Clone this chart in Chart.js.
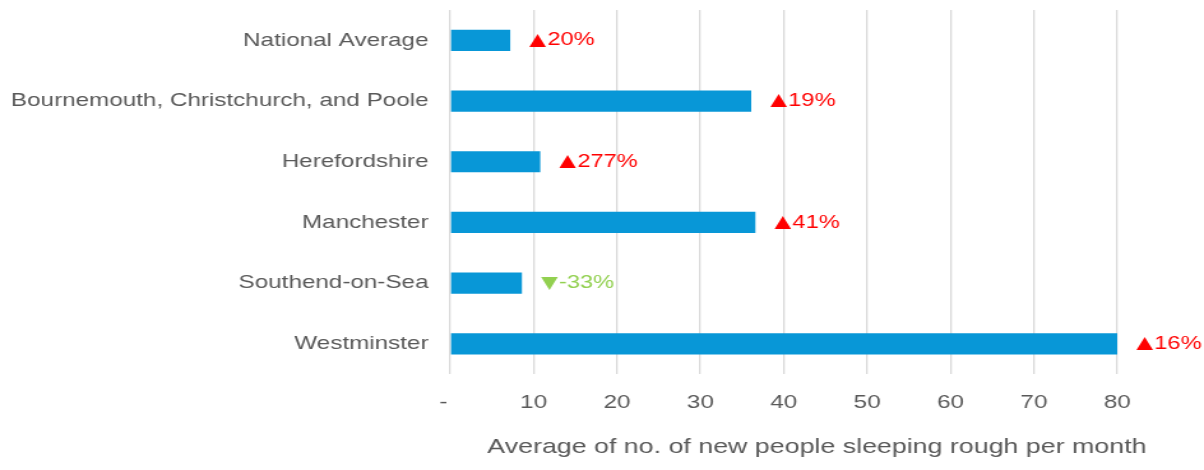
<!DOCTYPE html>
<html>
<head>
<meta charset="utf-8">
<title>New people sleeping rough</title>
<script src="https://cdn.jsdelivr.net/npm/chart.js@4/dist/chart.umd.min.js"></script>
<style>
    html, body { margin: 0; padding: 0; background: #fff; overflow: hidden; }
    /* the chart is laid out narrow and stretched sideways */
    #wrap { width: 944px; height: 470px; transform: scaleX(1.2754); transform-origin: 0 0; }
</style>
</head>
<body>
<div id="wrap"><canvas id="roughChart"></canvas></div>
<script>
const areas = [
    "National Average",
    "Bournemouth, Christchurch, and Poole",
    "Herefordshire",
    "Manchester",
    "Southend-on-Sea",
    "Westminster"
];
const avgNewRough = [7.2, 36.1, 10.8, 36.6, 8.6, 80];
const pctChange = [20, 19, 277, 41, -33, 16];
const xTicks = [0, 10, 20, 30, 40, 50, 60, 70, 80];

const TEXT = '#595959';
const FONT = '"Liberation Sans", Arial, sans-serif';
Chart.defaults.font.family = FONT;

// change labels next to each bar, red up / green down
const changeLabels = {
    id: 'changeLabels',
    afterDatasetsDraw(chart) {
        const ctx = chart.ctx;
        ctx.save();
        ctx.textAlign = 'left';
        ctx.textBaseline = 'middle';
        chart.getDatasetMeta(0).data.forEach((bar, i) => {
            const v = pctChange[i];
            let x = bar.x + 15;
            ctx.fillStyle = v >= 0 ? '#FF0000' : '#92D050';
            ctx.font = '17px "DejaVu Sans"';
            const arrow = v >= 0 ? '\u25B2' : '\u25BC';
            ctx.fillText(arrow, x, bar.y);
            x += ctx.measureText(arrow).width + 1;
            ctx.font = '18.5px ' + FONT;
            ctx.fillText(v + '%', x, bar.y);
        });
        ctx.restore();
    }
};

// axis caption under the tick labels
const axisCaption = {
    id: 'axisCaption',
    afterDraw(chart) {
        const ctx = chart.ctx;
        const a = chart.chartArea;
        ctx.save();
        ctx.font = '21px ' + FONT;
        ctx.fillStyle = TEXT;
        ctx.textAlign = 'center';
        ctx.textBaseline = 'alphabetic';
        ctx.fillText('Average of no. of new people sleeping rough per month', (a.left + a.right) / 2 + 26, 453);
        ctx.restore();
    }
};

new Chart(document.getElementById('roughChart'), {
    type: 'bar',
    data: {
        labels: areas,
        datasets: [{
            data: avgNewRough,
            backgroundColor: '#0897D7',
            barPercentage: 0.35,
            categoryPercentage: 1
        }]
    },
    options: {
        indexAxis: 'y',
        responsive: true,
        maintainAspectRatio: false,
        animation: false,
        layout: { padding: { top: 10, right: 68, bottom: 39, left: 0 } },
        plugins: {
            legend: { display: false },
            tooltip: { enabled: false }
        },
        scales: {
            x: {
                min: 0,
                max: 80,
                afterBuildTicks: scale => { scale.ticks = xTicks.map(v => ({ value: v })); },
                ticks: {
                    color: TEXT,
                    font: { size: 19 },
                    padding: 17,
                    maxRotation: 0,
                    callback: v => v === 0 ? '-  ' : v
                },
                grid: { color: '#DADADA', lineWidth: 1.3, drawTicks: false },
                border: { display: false }
            },
            y: {
                afterFit: scale => {
                    scale.width = 353;
                    scale.paddingTop = 0;
                    scale.paddingBottom = 0;
                },
                ticks: { color: TEXT, font: { size: 19 }, padding: 9 },
                grid: { display: false },
                border: { display: false }
            }
        }
    },
    plugins: [changeLabels, axisCaption]
});
</script>
</body>
</html>
